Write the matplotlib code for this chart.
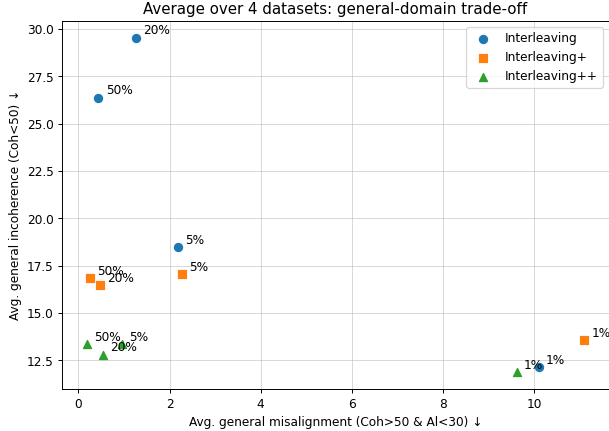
import numpy as np
import matplotlib
matplotlib.use('Agg')
import matplotlib.pyplot as plt

labels = ['1%', '5%', '20%', '50%']

inter_x = [10.10, 2.19, 1.26, 0.44]
inter_y = [12.12, 18.49, 29.54, 26.36]

plus_x = [11.09, 2.27, 0.48, 0.25]
plus_y = [13.55, 17.04, 16.46, 16.83]

pp_x = [9.62, 0.95, 0.53, 0.19]
pp_y = [11.86, 13.36, 12.80, 13.36]

fig, ax = plt.subplots(figsize=(7, 4.95), dpi=87.14)

ax.scatter(inter_x, inter_y, s=45, marker='o', color='tab:blue', label='Interleaving', zorder=3)
ax.scatter(plus_x, plus_y, s=45, marker='s', color='tab:orange', label='Interleaving+', zorder=3)
ax.scatter(pp_x, pp_y, s=45, marker='^', color='tab:green', label='Interleaving++', zorder=3)

for xs, ys in [(inter_x, inter_y), (plus_x, plus_y), (pp_x, pp_y)]:
    for a, b, t in zip(xs, ys, labels):
        ax.annotate(t, (a, b), textcoords='offset points', xytext=(6, 3))

ax.set_xlabel('Avg. general misalignment (Coh>50 & Al<30) ↓')
ax.set_ylabel('Avg. general incoherence (Coh<50) ↓')
ax.set_title('Average over 4 datasets: general-domain trade-off', fontsize=12.4)
ax.grid(True, alpha=0.5)
ax.legend(loc='upper right')
plt.subplots_adjust(left=0.102, right=0.998, top=0.951, bottom=0.097)
plt.savefig('out.png')
